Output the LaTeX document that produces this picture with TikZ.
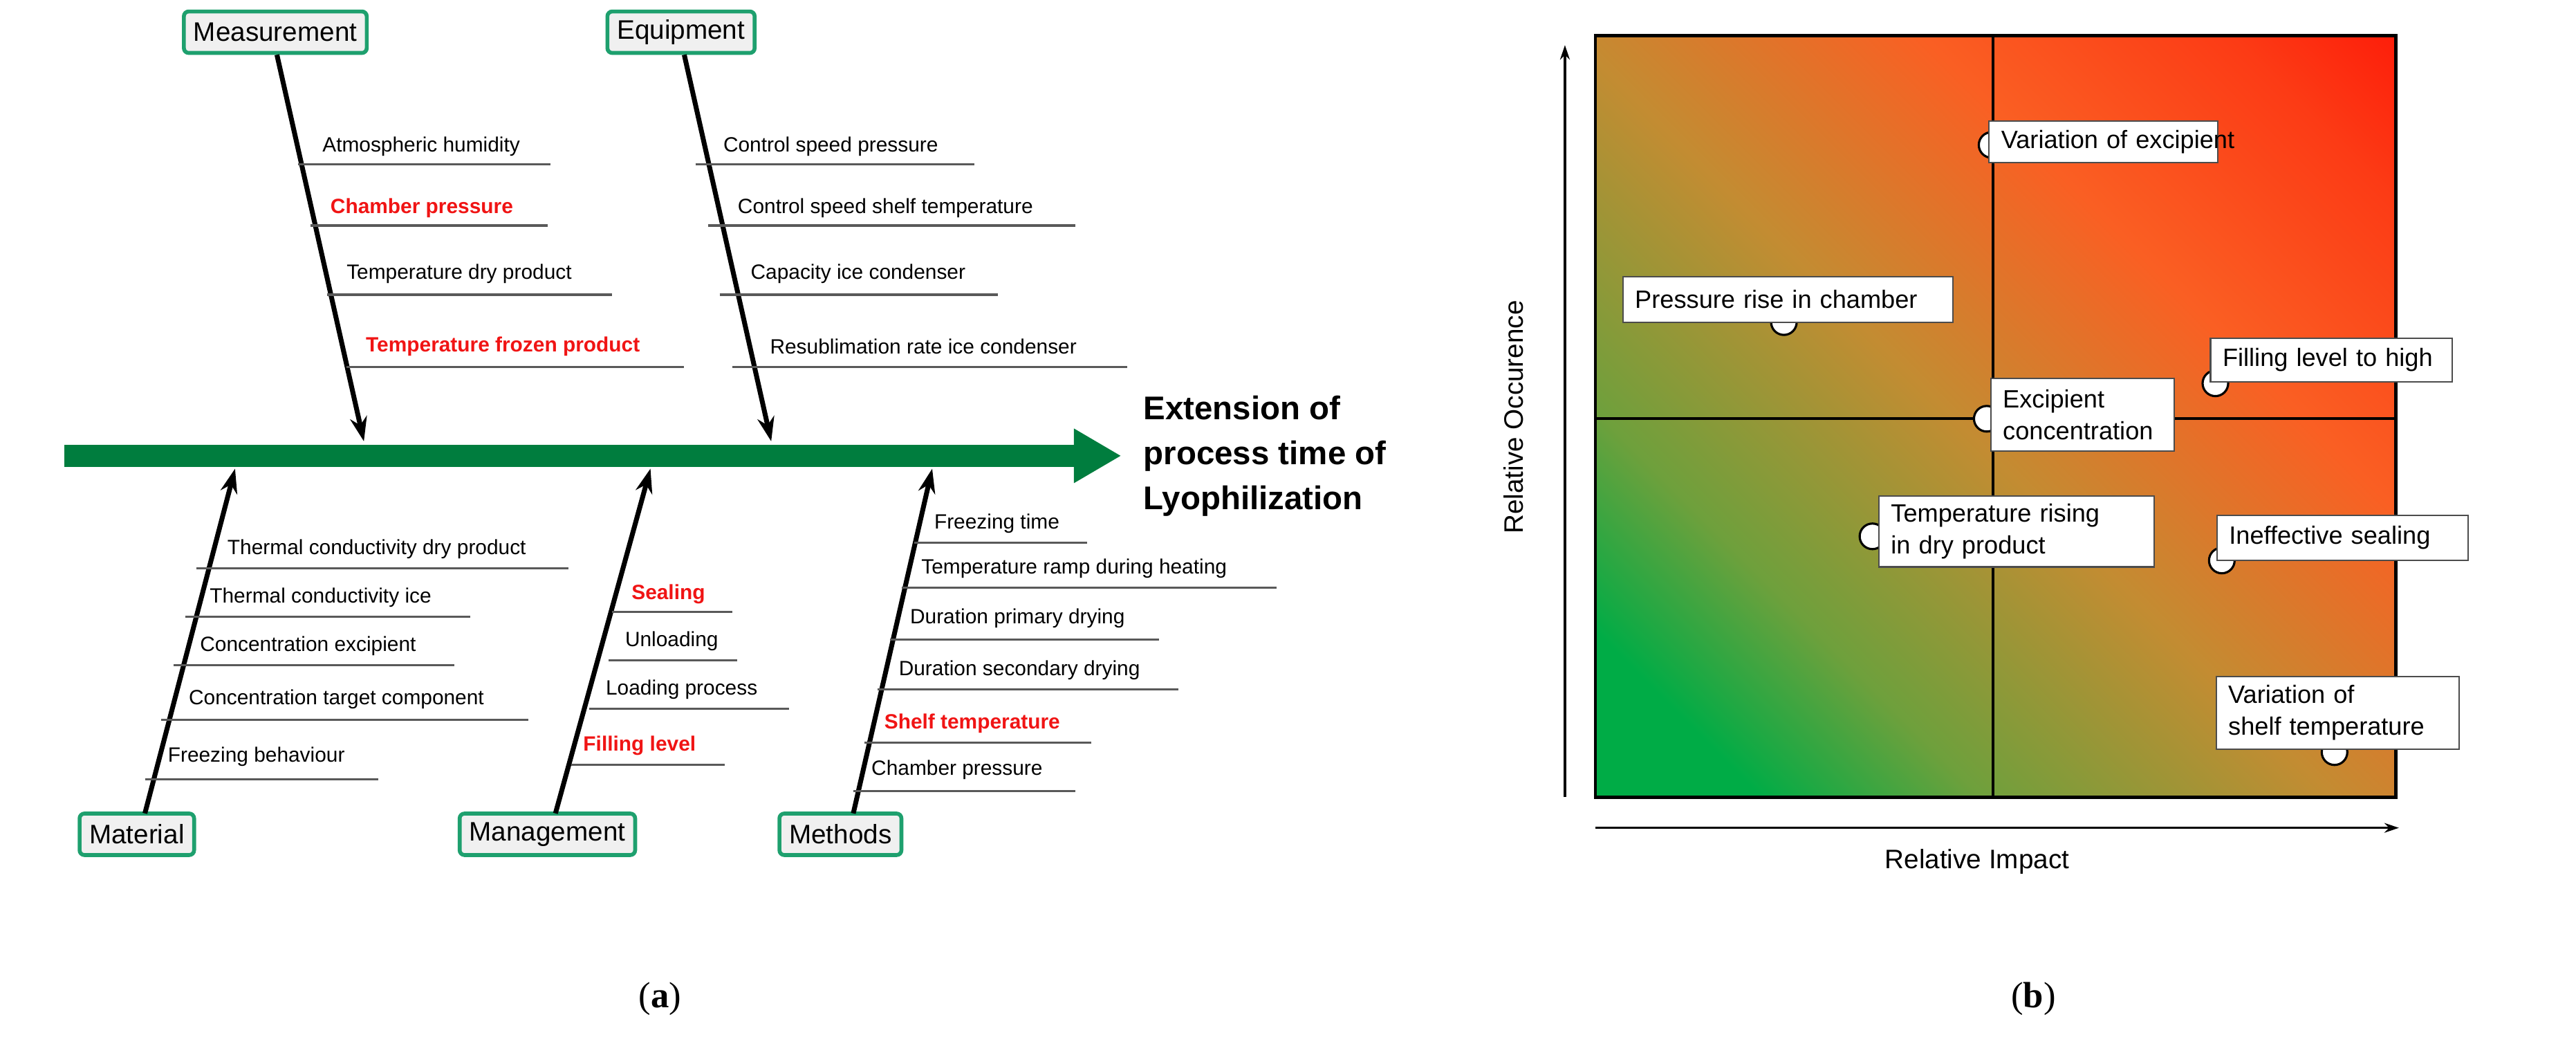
\documentclass[tikz,border=0pt]{standalone}
\usepackage{fontspec}
\setmainfont{Liberation Sans}
\newfontfamily\seriff{Liberation Serif}
\usetikzlibrary{arrows.meta}
\definecolor{spine}{RGB}{0,125,62}
\definecolor{bx}{RGB}{30,160,110}
\definecolor{bxf}{RGB}{240,240,240}
\definecolor{cred}{RGB}{240,20,20}
\definecolor{grn}{RGB}{0,172,70}
\definecolor{olv}{RGB}{110,160,60}
\definecolor{brn}{RGB}{195,140,50}
\definecolor{orng}{RGB}{250,95,35}
\definecolor{rd}{RGB}{255,5,0}
\pgfdeclarehorizontalshading{risk}{100bp}{color(0bp)=(grn); color(22bp)=(grn); color(32bp)=(olv); color(48bp)=(brn); color(64bp)=(orng); color(78bp)=(orng!60!rd); color(92bp)=(rd); color(100bp)=(rd)}
\tikzset{
  cat/.style={draw=bx, line width=1.6pt, fill=bxf, rounded corners=2pt, font=\fontsize{11}{13}\selectfont, minimum height=0.6cm, inner xsep=4pt},
  bone/.style={line width=2pt, -{Stealth[length=10pt,width=7pt]}},
  lab/.style={anchor=west, font=\fontsize{8.5}{10}\selectfont, inner sep=0pt},
  rlab/.style={lab, text=cred, font=\bfseries\fontsize{8.5}{10}\selectfont},
  ul/.style={draw=black!65, line width=0.9pt},
  pt/.style={circle, draw=black, fill=white, line width=0.9pt, minimum size=0.37cm, inner sep=0pt},
  tag/.style={draw=black!70, fill=white, line width=0.6pt, font=\fontsize{10.3}{13}\selectfont, align=left, inner xsep=5pt, inner ysep=0pt}
}
\begin{document}
\begin{tikzpicture}[x=0.02328cm, y=-0.02328cm]
\useasboundingbox (0,0) rectangle (1600,655);
% spine
\fill[spine] (40,276) rectangle (669,290);
\fill[spine] (667,266) -- (696,283) -- (667,300) -- cycle;
\node[anchor=west, align=left, font=\bfseries\fontsize{13.5}{18.5}\selectfont] (effect) at (705,283) {Extension of\\process time of\\Lyophilization};
% category boxes
\node[cat] (meas) at (171,20) {Measurement};
\node[cat] (equip) at (423,20) {Equipment};
\node[cat] (mat) at (85,518) {Material};
\node[cat] (man) at (340,518) {Management};
\node[cat] (meth) at (522,518) {Methods};
\coordinate (pm) at (226,274);
\coordinate (pe) at (479,274);
\coordinate (pma) at (146,291);
\coordinate (pmn) at (404,291);
\coordinate (pmt) at (579,291);
\draw[bone] (172,34) -- (pm);
\draw[bone] (425,34) -- (pe);
\draw[bone] (90,505) -- (pma);
\draw[bone] (345,505) -- (pmn);
\draw[bone] (530,505) -- (pmt);
% measurement
\node[lab] (m1) at (200,91) {Atmospheric humidity}; \draw[ul] (185,102) -- (342,102);
\node[rlab] (m2) at (205,129) {Chamber pressure}; \draw[ul] (193,140) -- (340,140);
\node[lab] (m3) at (215,170) {Temperature dry product}; \draw[ul] (203,183) -- (380,183);
\node[rlab] (m4) at (227,215) {Temperature frozen product}; \draw[ul] (215,228) -- (425,228);
% equipment
\node[lab] (e1) at (449,91) {Control speed pressure}; \draw[ul] (432,102) -- (605,102);
\node[lab] (e2) at (458,129) {Control speed shelf temperature}; \draw[ul] (440,140) -- (668,140);
\node[lab] (e3) at (466,170) {Capacity ice condenser}; \draw[ul] (447,183) -- (620,183);
\node[lab] (e4) at (478,215) {Resublimation rate ice condenser}; \draw[ul] (455,228) -- (700,228);
% material
\node[lab] (a1) at (141,341) {Thermal conductivity dry product}; \draw[ul] (122,353) -- (353,353);
\node[lab] (a2) at (130,371) {Thermal conductivity ice}; \draw[ul] (115,383) -- (292,383);
\node[lab] (a3) at (124,401) {Concentration excipient}; \draw[ul] (108,413) -- (282,413);
\node[lab] (a4) at (117,434) {Concentration target component}; \draw[ul] (100,447) -- (328,447);
\node[lab] (a5) at (104,470) {Freezing behaviour}; \draw[ul] (90,484) -- (235,484);
% management
\node[rlab] (g1) at (392,369) {Sealing}; \draw[ul] (380,380) -- (455,380);
\node[lab] (g2) at (388,398) {Unloading}; \draw[ul] (378,410) -- (458,410);
\node[lab] (g3) at (376,428) {Loading process}; \draw[ul] (366,440) -- (490,440);
\node[rlab] (g4) at (362,463) {Filling level}; \draw[ul] (355,475) -- (450,475);
% methods
\node[lab] (t1) at (580,325) {Freezing time}; \draw[ul] (568,337) -- (675,337);
\node[lab] (t2) at (572,353) {Temperature ramp during heating}; \draw[ul] (560,365) -- (793,365);
\node[lab] (t3) at (565,384) {Duration primary drying}; \draw[ul] (553,397) -- (720,397);
\node[lab] (t4) at (558,416) {Duration secondary drying}; \draw[ul] (545,428) -- (732,428);
\node[rlab] (t5) at (549,449) {Shelf temperature}; \draw[ul] (537,461) -- (678,461);
\node[lab] (t6) at (541,478) {Chamber pressure}; \draw[ul] (530,491) -- (668,491);
\node[font=\seriff\fontsize{15}{18}\selectfont] (capa) at (410,620) {(\textbf{a})};
% ===== matrix =====
\path[shading=risk, shading angle=45] (991,22) rectangle (1488,495);
\draw[line width=1.3pt] (991,22) rectangle (1488,495);
\draw[line width=1.1pt] (1238,22) -- (1238,495);
\draw[line width=1.1pt] (991,260) -- (1488,260);
\coordinate (yo) at (972,495); \coordinate (ye) at (972,28);
\coordinate (xo) at (991,514); \coordinate (xe) at (1490,514);
\draw[line width=0.9pt, -{Stealth[length=6pt,width=4pt]}] (yo) -- (ye);
\draw[line width=0.9pt, -{Stealth[length=6pt,width=4pt]}] (xo) -- (xe);
\node[rotate=90, font=\fontsize{11}{13}\selectfont] (ylab) at (940,259) {Relative Occurence};
\node[font=\fontsize{11}{13}\selectfont] (xlab) at (1228,535) {Relative Impact};
% points
\node[pt] (p1) at (1237,90) {};
\node[pt] (p2) at (1108,200) {};
\node[pt] (p3) at (1376,238) {};
\node[pt] (p4) at (1234,260) {};
\node[pt] (p5) at (1163,333) {};
\node[pt] (p6) at (1380,348) {};
\node[pt] (p7) at (1450,467) {};
\node[tag, text width=127*0.02328cm, minimum height=26*0.02328cm] (b1) at (1306.5,88) {\mbox{Variation of excipient}};
\node[tag, text width=190*0.02328cm, minimum height=28*0.02328cm] (b2) at (1110.5,186) {Pressure rise in chamber};
\node[tag, text width=135*0.02328cm, minimum height=27*0.02328cm] (b3) at (1448,223.5) {Filling level to high};
\node[tag, text width=99*0.02328cm, minimum height=45*0.02328cm] (b4) at (1293.5,257.5) {Excipient\\concentration};
\node[tag, text width=156*0.02328cm, minimum height=44*0.02328cm] (b5) at (1252.5,330) {Temperature rising\\in dry product};
\node[tag, text width=141*0.02328cm, minimum height=28*0.02328cm] (b6) at (1455,334) {Ineffective sealing};
\node[tag, text width=136*0.02328cm, minimum height=45*0.02328cm] (b7) at (1452,442.5) {Variation of\\shelf temperature};
\node[font=\seriff\fontsize{15}{18}\selectfont] (capb) at (1263,620) {(\textbf{b})};
\end{tikzpicture}
\end{document}
